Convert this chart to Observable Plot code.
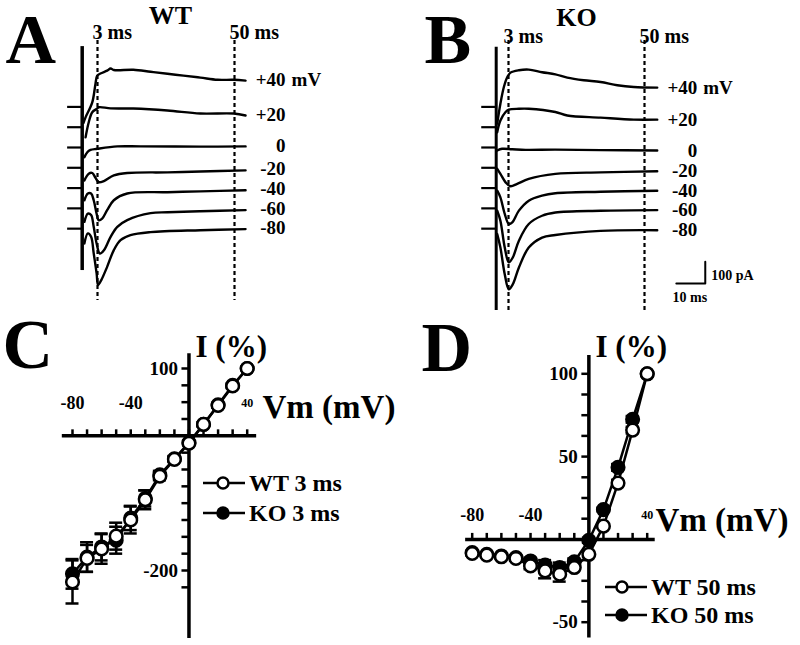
<!DOCTYPE html>
<html><head><meta charset="utf-8">
<script src="https://cdn.jsdelivr.net/npm/d3@7"></script>
<script src="https://cdn.jsdelivr.net/npm/@observablehq/plot@0.6"></script>
<style>
html,body{margin:0;padding:0;background:#fff;}
#fig{position:relative;width:800px;height:645px;overflow:hidden;background:#fff;}
</style></head>
<body><div id="fig"></div>
<script>
// ---------------- DATA ----------------
// Voltage steps of the current traces (top to bottom)
const stepLabels = ["+40", "+20", "0", "-20", "-40", "-60", "-80"];
// Sample times (ms) and currents (pA, relative to each trace's holding baseline)
const wtTraceT = [
  [-1.8, -1.1, 1.2, 2.3, 2.9, 4.0, 6.3, 7.5, 8.6, 15.3, 21.2, 27.0, 32.5, 38.3, 44.2, 49.7, 53.8],
  [-1.1, 0.0, 1.2, 2.7, 3.4, 7.5, 15.3, 27.0, 38.3, 49.7, 53.8],
  [-1.5, -0.5, 0.6, 2.9, 9.8, 17.8, 38.3, 53.8],
  [-1.5, 0.0, 1.2, 2.3, 3.4, 5.2, 8.6, 13.2, 27.0, 38.3, 53.8],
  [-1.5, -0.3, 0.8, 1.7, 2.7, 3.4, 4.6, 6.3, 8.6, 13.2, 27.0, 38.3, 53.8],
  [-1.5, -0.3, 0.8, 1.7, 2.7, 3.8, 5.2, 7.5, 9.8, 13.2, 21.2, 27.0, 38.3, 53.8],
  [-1.5, -0.3, 0.8, 1.7, 2.7, 3.2, 4.3, 6.3, 8.6, 10.9, 14.3, 21.2, 38.3, 53.8]
];
const wtTraceI = [
  [-73, -48, 21, 106, 144, 154, 167, 177, 170, 171, 162, 153, 144, 135, 125, 125, 121],
  [-47, 23, 69, 84, 92, 87, 86, 77, 63, 63, 54],
  [-45, -22, -11, -6, 5, 5, 4, 5],
  [-58, -27, -24, -46, -66, -61, -35, -24, -21, -17, -12],
  [-56, -25, -25, -56, -118, -148, -141, -102, -56, -25, -19, -15, -10],
  [-62, -24, -31, -85, -162, -208, -193, -131, -85, -54, -22, -18, -13, -8],
  [-68, -22, -37, -114, -206, -260, -237, -176, -99, -53, -30, -16, -7, -2]
];
const koTraceT = [
  [-0.9, 0.2, 1.4, 2.6, 3.7, 6.6, 10.0, 14.6, 19.2, 23.3, 29.0, 34.8, 40.6, 46.3, 54.4],
  [-0.9, 0.2, 2.0, 3.1, 6.6, 10.0, 19.2, 23.3, 34.8, 46.3, 54.4],
  [-0.9, 0.8, 4.3, 8.9, 19.2, 34.8, 54.4],
  [-0.9, 0.2, 2.0, 3.7, 6.0, 10.0, 19.2, 34.8, 54.4],
  [-0.9, 0.2, 1.7, 3.1, 4.3, 6.6, 10.0, 14.6, 19.2, 34.8, 54.4],
  [-0.9, 0.2, 1.7, 3.1, 4.5, 6.6, 10.0, 14.6, 19.2, 34.8, 54.4],
  [-0.9, 0.2, 1.7, 3.1, 4.5, 6.6, 10.0, 14.6, 19.2, 34.8, 54.4]
];
const koTraceI = [
  [-77, 15, 92, 138, 158, 169, 172, 160, 150, 135, 123, 115, 100, 92, 89],
  [-23, 31, 70, 81, 85, 85, 70, 54, 44, 35, 35],
  [-14, -6, -8, -11, -10, -12, -14],
  [-5, -28, -67, -85, -74, -51, -28, -21, -16],
  [-12, -43, -119, -165, -158, -104, -58, -35, -24, -17, -12],
  [-11, -57, -180, -249, -226, -149, -72, -34, -19, -11, -8],
  [-25, -87, -210, -279, -256, -179, -87, -41, -29, -10, -7]
];
const markTimes = [3, 50];
const markLabels = ["3 ms", "50 ms"];
const scaleBarTime = 10;   // ms
const scaleBarCurrent = 100; // pA

// I-V relations (normalized current, %)
const volts = [-80, -70, -60, -50, -40, -30, -20, -10, 0, 10, 20, 30, 40];
const wt3 = [-217, -182, -168, -149, -125, -95, -60, -35, -11, 17, 45, 74, 100];
const wt3Err = [32, 20, 22, 20, 20, 14, 6, 4, 3, 3, 3, 3, 0];
const ko3 = [-205, -180, -165, -155, -122, -93, -58, -34, -10, 17, 46, 75, 100];
const ko3Err = [22, 22, 20, 20, 18, 12, 6, 4, 3, 3, 3, 3, 0];
const wt50 = [-8.5, -9.5, -10.5, -11.5, -16, -19, -21, -17, -9, 8, 34, 66, 100];
const wt50Err = [1, 1, 1, 1.5, 2, 4.5, 4.5, 2, 1.5, 1, 2, 2, 0];
const ko50 = [-8, -9, -10, -11, -13, -15.5, -17, -13.5, -0.5, 18, 43.5, 72.5, 100];
const ko50Err = [1, 1, 1, 1.5, 2, 3, 3, 2, 1.5, 1, 2, 2, 0];
const xTickValues = [-80, -70, -60, -50, -40, -30, -20, -10, 0, 10, 20, 30, 40];
const xTickLabels = [-80, -40];
const cYTicks = [-225, -200, -175, -150, -125, -100, -75, -50, -25, 25, 50, 75, 100];
const cYLabels = [100, -200];
const dYTicks = [-50, -37.5, -25, -12.5, 12.5, 25, 37.5, 50, 62.5, 75, 87.5, 100];
const dYLabels = [100, 50, -50];

// ---------------- DRAWING ----------------
const FONT = '"Liberation Serif","Times New Roman",Times,serif';
const fig = document.getElementById("fig");
const STACK = 93.5; // pA display offset between stacked traces

function place(node, left, top) {
  node.style.position = "absolute";
  node.style.left = left + "px";
  node.style.top = top + "px";
  fig.appendChild(node);
}
const T = (extra) => Object.assign({fontFamily: FONT, fontWeight: "bold", fill: "#000"}, extra);

function tracePanel(o) {
  const rows = [];
  o.times.forEach((ts, k) => ts.forEach((t, j) => rows.push({k, t, v: o.currents[k][j] + (2 - k) * STACK})));
  const ends = o.times.map((ts, k) => ({
    t: ts[ts.length - 1],
    v: o.currents[k][o.currents[k].length - 1] + (2 - k) * STACK,
    s: stepLabels[k]
  }));
  const bases = stepLabels.map((s, k) => (2 - k) * STACK);
  const marks = [
    Plot.ruleX(markTimes, {y1: o.dashSpan[0], y2: o.dashSpan[1], stroke: "#000", strokeWidth: 2.2, strokeDasharray: "4,3"}),
    Plot.ruleY(bases, {x1: o.artifactT - 5, x2: o.artifactT, stroke: "#000", strokeWidth: 2.2}),
    Plot.ruleX([o.artifactT], {y1: o.artifactSpan[0], y2: o.artifactSpan[1], stroke: "#000", strokeWidth: o.artifactW}),
    Plot.line(rows, {x: "t", y: "v", z: "k", stroke: "#000", strokeWidth: 2.4, curve: "catmull-rom"}),
    Plot.text(ends, T({x: "t", y: "v", text: "s", textAnchor: "end", dx: 40, dy: o.labelDy, fontSize: 19})),
    Plot.text(ends.slice(0, 1), T({x: "t", y: "v", text: () => "mV", textAnchor: "start", dx: 46, dy: o.labelDy, fontSize: 19})),
    Plot.text(markTimes, T({x: d => d, text: (d, i) => markLabels[i], frameAnchor: "top", textAnchor: "start", lineAnchor: "bottom", dx: -5, dy: o.markBase, fontSize: 20})),
    Plot.text([o.title], T({frameAnchor: "top-left", dx: o.titleX, dy: o.titleBase, textAnchor: "middle", lineAnchor: "bottom", fontSize: 26})),
    Plot.text([o.letter], T({frameAnchor: "top-left", dx: o.letterX, dy: 62, textAnchor: "start", lineAnchor: "bottom", fontSize: 70}))
  ];
  if (o.scaleBar) {
    const sb = o.scaleBar;
    marks.push(
      Plot.line([{t: sb.t - scaleBarTime, v: sb.v}, {t: sb.t, v: sb.v}, {t: sb.t, v: sb.v + scaleBarCurrent}], {x: "t", y: "v", stroke: "#000", strokeWidth: 2}),
      Plot.text([`${scaleBarCurrent} pA`], T({x: sb.t, y: sb.v + scaleBarCurrent * 0.37, textAnchor: "start", dx: 6, fontSize: 14})),
      Plot.text([`${scaleBarTime} ms`], T({x: sb.t - scaleBarTime / 2, y: sb.v, textAnchor: "middle", dx: -1, dy: 14, fontSize: 14}))
    );
  }
  return Plot.plot({
    width: 400, height: 310, margin: 0,
    style: {fontFamily: FONT, background: "transparent", overflow: "visible"},
    x: {domain: [3, 50], range: o.xRange, axis: null},
    y: {domain: [0, 100], range: [147, 125.3], axis: null},
    marks
  });
}

function ivPanel(o) {
  const mk = (vals, errs) => volts.map((v, i) => ({v, c: vals[i], e: errs[i]}));
  const ko = mk(o.ko, o.koErr), wt = mk(o.wt, o.wtErr);
  const pxX = (o.xRange[1] - o.xRange[0]) / (o.xDomain[1] - o.xDomain[0]);
  const pxY = Math.abs(o.yRange[1] - o.yRange[0]) / (o.yDomain[1] - o.yDomain[0]);
  const cap = 6.5 / pxX;
  const errMarks = (data) => [
    Plot.ruleX(data.filter(d => d.e > 0), {x: "v", y1: d => d.c - d.e, y2: d => d.c + d.e, stroke: "#000", strokeWidth: 2.5}),
    Plot.ruleY(data.filter(d => d.e > 0), {y: d => d.c - d.e, x1: d => d.v - cap, x2: d => d.v + cap, stroke: "#000", strokeWidth: 2.5}),
    Plot.ruleY(data.filter(d => d.e > 0), {y: d => d.c + d.e, x1: d => d.v - cap, x2: d => d.v + cap, stroke: "#000", strokeWidth: 2.5})
  ];
  const marks = [
    Plot.ruleY([0], {x1: o.xAxis[0], x2: o.xAxis[1], stroke: "#000", strokeWidth: 3.5}),
    Plot.ruleX([0], {y1: o.yAxis[0], y2: o.yAxis[1], stroke: "#000", strokeWidth: 3.5}),
    Plot.ruleX(xTickValues, {x: d => d, y1: 0, y2: 6 / pxY, stroke: "#000", strokeWidth: 2.5}),
    Plot.ruleY(o.yTicks, {y: d => d, x1: -7 / pxX, x2: 0, stroke: "#000", strokeWidth: 2.5}),
    Plot.text(xTickLabels, T({x: d => d, y: 0, text: d => String(d), dy: o.xLabDy, fontSize: 18})),
    Plot.text([40], T({x: d => d, y: 0, text: d => String(d), dy: o.xLabDy, fontSize: 12})),
    Plot.text(o.yLabels, T({x: 0, y: d => d, text: d => String(d), dx: -11, textAnchor: "end", fontSize: 19})),
    ...errMarks(ko),
    ...errMarks(wt),
    Plot.line(ko, {x: "v", y: "c", stroke: "#000", strokeWidth: 2.5}),
    Plot.dot(ko, {x: "v", y: "c", r: 6.3, fill: "#000", stroke: "#000", strokeWidth: 2.5}),
    Plot.line(wt, {x: "v", y: "c", stroke: "#000", strokeWidth: 2.5}),
    Plot.dot(wt, {x: "v", y: "c", r: 6.3, fill: "#fff", stroke: "#000", strokeWidth: 2.5}),
    Plot.text(["I (%)"], T({frameAnchor: "top-left", dx: 195, dy: 46, textAnchor: "start", lineAnchor: "bottom", fontSize: 31})),
    Plot.text(["Vm (mV)"], T({frameAnchor: "top-left", dx: o.vmX, dy: o.vmBase, textAnchor: "start", lineAnchor: "bottom", fontSize: 33})),
    Plot.text([o.letter], T({frameAnchor: "top-left", dx: o.letterX, dy: o.letterBase, textAnchor: "start", lineAnchor: "bottom", fontSize: 70}))
  ];
  return Plot.plot({
    width: 400, height: 335, margin: 0,
    style: {fontFamily: FONT, background: "transparent", overflow: "visible"},
    x: {domain: o.xDomain, range: o.xRange, axis: null},
    y: {domain: o.yDomain, range: o.yRange, axis: null},
    marks
  });
}

function legendItem(left, cy, label, filled, lineW, cx) {
  const d = document.createElement("div");
  d.style.cssText = `height:30px;display:flex;align-items:center;white-space:nowrap;font-family:${FONT};font-weight:bold;font-size:24px;line-height:30px;color:#000;`;
  d.innerHTML = `<svg width="${lineW}" height="20" style="display:block"><line x1="0" y1="10" x2="${lineW}" y2="10" stroke="#000" stroke-width="2.5"/><circle cx="${cx}" cy="10" r="5.5" fill="${filled ? "#000" : "#fff"}" stroke="#000" stroke-width="2.5"/></svg><span style="margin-left:4px">${label}</span>`;
  place(d, left, cy - 15);
}

place(tracePanel({
  times: wtTraceT, currents: wtTraceI, xRange: [97, 234], letter: "A", letterX: 5,
  title: "WT", titleX: 170, titleBase: 23, markBase: 38, labelDy: -1,
  artifactT: -2.25, artifactSpan: [465, -567], dashSpan: [493, -705], artifactW: 3.5
}), 0, 0);

place(tracePanel({
  times: koTraceT, currents: koTraceI, xRange: [108, 244], letter: "B", letterX: 24,
  title: "KO", titleX: 176, titleBase: 25, markBase: 42, labelDy: 0,
  artifactT: -1.25, artifactSpan: [462, -751], dashSpan: [493, -751], artifactW: 3,
  scaleBar: {t: 71, v: -627}
}), 400, 0);

place(ivPanel({
  wt: wt3, wtErr: wt3Err, ko: ko3, koErr: ko3Err, letter: "C", letterX: 2, letterBase: 57,
  xDomain: [-80, 40], xRange: [72, 246.7], yDomain: [-200, 100], yRange: [260, 58],
  xAxis: [-87, 46.5], yAxis: [-301, 122], yTicks: cYTicks, yLabels: cYLabels,
  xLabDy: -33, vmX: 262, vmBase: 107
}), 0, 310);

place(ivPanel({
  wt: wt50, wtErr: wt50Err, ko: ko50, koErr: ko50Err, letter: "D", letterX: 21, letterBase: 60,
  xDomain: [-80, 40], xRange: [71.7, 246.7], yDomain: [-50, 100], yRange: [311.7, 63.3],
  xAxis: [-84.5, 45.5], yAxis: [-59.5, 111], yTicks: dYTicks, yLabels: dYLabels,
  xLabDy: -24, vmX: 255, vmBase: 220
}), 400, 310);

legendItem(203, 483, "WT 3 ms", false, 42, 20);
legendItem(203, 513, "KO 3 ms", true, 42, 20);
legendItem(605, 587, "WT 50 ms", false, 42, 17);
legendItem(605, 615, "KO 50 ms", true, 42, 17);
</script>
</body></html>
